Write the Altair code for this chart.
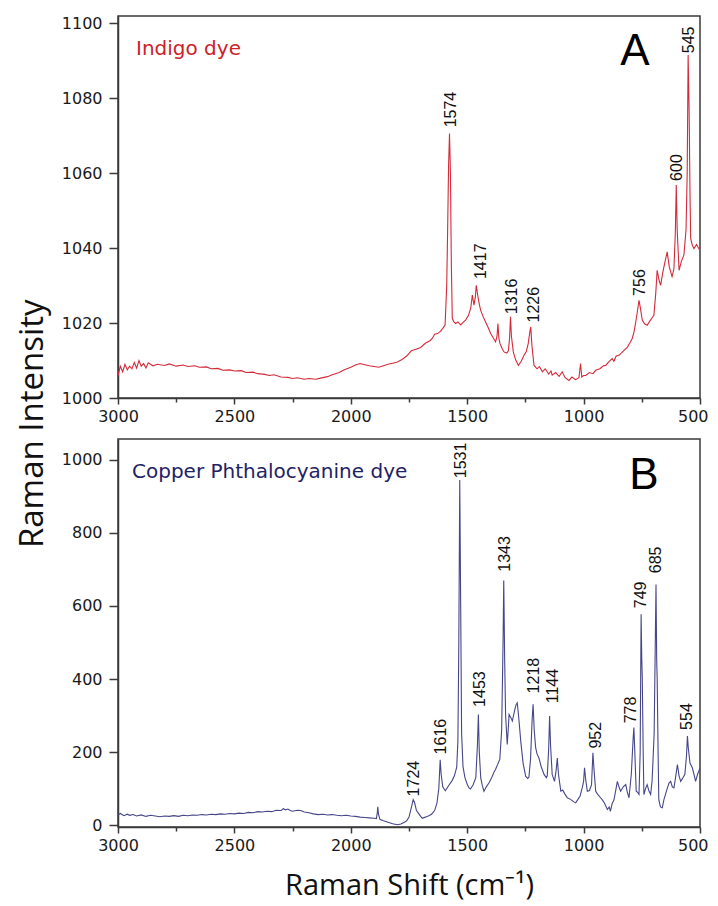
import altair as alt
import pandas as pd

# ---------------- Indigo dye spectrum (panel A) ----------------
indigo_shift = [3000, 2990, 2980, 2970, 2960, 2950, 2940, 2930, 2920, 2910, 2900, 2890, 2880, 2870, 2850,
                2830, 2800, 2780, 2750, 2720, 2700, 2670, 2650, 2620, 2600, 2570, 2550, 2520, 2500, 2470,
                2450, 2420, 2400, 2370, 2350, 2330, 2300, 2270, 2250, 2230, 2200, 2180, 2150, 2130, 2100,
                2080, 2050, 2030, 2000, 1980, 1960, 1940, 1920, 1900, 1880, 1860, 1840, 1820, 1800, 1780,
                1760, 1740, 1720, 1700, 1680, 1660, 1650, 1640, 1628, 1615, 1605, 1595, 1588, 1584, 1580,
                1576, 1572, 1568, 1564, 1558, 1550, 1540, 1528, 1518, 1507, 1495, 1485, 1478, 1471, 1465,
                1461, 1455, 1448, 1442, 1432, 1421, 1410, 1399, 1388, 1378, 1372, 1368, 1364, 1359, 1350,
                1342, 1330, 1323, 1318, 1314, 1310, 1302, 1292, 1280, 1268, 1256, 1246, 1238, 1230, 1227,
                1222, 1213, 1200, 1190, 1177, 1165, 1150, 1140, 1135, 1120, 1105, 1092, 1080, 1063, 1050,
                1035, 1020, 1013, 1008, 1000, 991, 975, 960, 948, 930, 915, 905, 890, 877, 870,
                860, 848, 835, 825, 812, 800, 791, 783, 776, 768, 762, 756, 748, 738, 727,
                715, 705, 698, 690, 684, 676, 669, 660, 650, 641, 632, 620, 612, 606, 602,
                598, 590, 580, 569, 560, 555, 551, 547, 543, 540, 533, 526, 515, 504, 500]
indigo_int = [1006.0, 1008.5, 1007.0, 1009.0, 1007.5, 1008.5, 1007.8, 1009.5, 1008.0, 1010.0, 1008.5, 1009.2, 1008.0, 1009.4, 1008.6,
              1009.0, 1008.7, 1009.1, 1008.5, 1008.8, 1008.4, 1008.6, 1008.2, 1008.3, 1007.8, 1007.9, 1007.4, 1007.5, 1007.2, 1007.3,
              1006.8, 1006.9, 1006.5, 1006.3, 1006.0, 1006.2, 1005.6, 1005.5, 1005.2, 1005.4, 1005.0, 1005.2, 1005.0, 1005.3, 1005.7,
              1006.2, 1006.8, 1007.5, 1008.2, 1008.8, 1009.2, 1008.9, 1008.6, 1008.4, 1008.2, 1008.6, 1009.0, 1009.3, 1009.6, 1010.3,
              1011.2, 1012.6, 1013.0, 1013.5, 1014.6, 1015.3, 1015.9, 1017.0, 1017.2, 1017.8, 1018.6, 1019.5, 1030.0, 1045.0, 1062.0,
              1070.6, 1060.0, 1035.0, 1021.2, 1020.4, 1019.9, 1020.3, 1019.5, 1020.2, 1020.8, 1022.0, 1023.9, 1027.5, 1024.8, 1027.0,
              1030.1, 1027.5, 1025.0, 1023.4, 1021.8, 1020.3, 1018.8, 1017.2, 1016.0, 1015.0, 1016.5, 1019.9, 1016.0, 1014.5, 1013.2,
              1012.3, 1012.0, 1012.6, 1016.0, 1021.7, 1016.5, 1012.3, 1010.2, 1008.7, 1009.8, 1011.4, 1012.4, 1014.5, 1018.0, 1019.0,
              1014.0, 1008.7, 1007.8, 1008.4, 1007.0, 1007.8, 1006.4, 1007.2, 1006.1, 1006.8, 1005.8, 1007.0, 1005.5, 1004.7, 1005.6,
              1004.9, 1005.4, 1009.2, 1005.6, 1006.0, 1006.0, 1006.8, 1006.5, 1007.4, 1007.8, 1008.6, 1008.7, 1009.8, 1010.5, 1009.8,
              1011.2, 1011.4, 1012.2, 1012.8, 1013.6, 1014.8, 1015.9, 1017.8, 1020.3, 1023.5, 1026.1, 1024.0, 1020.8, 1019.8, 1019.4,
              1020.6, 1021.5, 1022.1, 1028.0, 1034.1, 1031.5, 1030.1, 1033.5, 1036.5, 1039.0, 1035.0, 1032.4, 1034.5, 1044.0, 1056.9,
              1045.0, 1034.1, 1036.5, 1038.2, 1045.0, 1060.0, 1091.6, 1078.0, 1055.0, 1042.6, 1040.8, 1039.9, 1041.0, 1039.8, 1040.2]

indigo_peak_labels = ["1574", "1417", "1316", "1226", "756", "600", "545"]
indigo_label_x = [1571, 1442, 1306, 1213, 759, 597, 547]
indigo_label_y = [1072.0, 1031.5, 1022.1, 1019.9, 1027.0, 1057.7, 1091.8]

# ---------------- Copper phthalocyanine spectrum (panel B) ----------------
cupc_shift = [3000, 2990, 2975, 2960, 2950, 2935, 2920, 2900, 2880, 2860, 2840, 2820, 2800, 2780, 2760,
              2740, 2720, 2700, 2680, 2660, 2640, 2620, 2600, 2580, 2560, 2540, 2520, 2500, 2480, 2460,
              2440, 2420, 2400, 2380, 2360, 2340, 2320, 2300, 2290, 2280, 2270, 2260, 2250, 2230, 2215,
              2200, 2180, 2160, 2140, 2120, 2100, 2080, 2060, 2040, 2020, 2000, 1980, 1960, 1940, 1920,
              1900, 1890, 1886, 1884, 1881, 1875, 1860, 1840, 1820, 1800, 1785, 1772, 1760, 1750, 1740,
              1732, 1726, 1718, 1712, 1700, 1693, 1680, 1665, 1653, 1640, 1630, 1622, 1616, 1612, 1605,
              1594, 1580, 1565, 1555, 1545, 1540, 1536, 1532, 1528, 1524, 1518, 1510, 1500, 1492, 1486,
              1475, 1463, 1456, 1452, 1448, 1442, 1435, 1428, 1418, 1406, 1395, 1385, 1378, 1370, 1360,
              1352, 1346, 1343, 1339, 1335, 1328, 1324, 1320, 1313, 1306, 1296, 1290, 1285, 1278, 1270,
              1260, 1249, 1240, 1235, 1228, 1221, 1217, 1212, 1206, 1200, 1192, 1182, 1170, 1160, 1156,
              1150, 1146, 1142, 1135, 1125, 1118, 1113, 1108, 1098, 1090, 1080, 1070, 1060, 1050, 1040,
              1034, 1025, 1015, 1006, 1000, 996, 991, 984, 975, 966, 960, 955, 948, 940, 927,
              918, 910, 898, 890, 885, 877, 870, 862, 855, 848, 841, 830, 819, 812, 805,
              795, 787, 784, 780, 774, 768, 762, 757, 753, 750, 748, 744, 741, 734, 727,
              720, 712, 706, 702, 697, 693, 689, 686, 684, 680, 677, 670, 662, 655, 648,
              640, 633, 626, 619, 612, 605, 597, 590, 583, 575, 565, 558, 554, 550, 543,
              533, 526, 519, 510, 504, 500]
cupc_int = [28, 32, 26, 30, 27, 29, 25, 28, 24, 27, 25, 23, 25, 24, 26,
            24, 27, 26, 28, 27, 29, 28, 30, 29, 31, 30, 32, 31, 33, 32,
            35, 34, 37, 36, 38, 37, 41, 40, 45, 42, 44, 40, 38, 41, 40,
            36, 34, 31, 29, 30, 28, 29, 27, 26, 27, 25, 24, 22, 21, 20,
            19, 18, 35, 50, 30, 16, 12, 8, 4, 1, 3, 7, 12, 22, 48,
            70, 62, 40, 35, 24, 19, 22, 26, 30, 40, 60, 100, 179, 140, 105,
            94, 108, 122, 135, 159, 230, 500, 945, 600, 250, 160, 131, 112, 102, 99,
            110, 130, 220, 303, 200, 130, 108, 93, 105, 116, 130, 145, 153, 165, 180,
            260, 500, 670, 450, 300, 221, 260, 303, 295, 285, 315, 330, 335, 290, 230,
            170, 134, 128, 131, 180, 290, 331, 260, 212, 195, 184, 160, 139, 130, 135,
            210, 299, 220, 139, 120, 150, 184, 140, 93, 96, 85, 75, 72, 68, 63,
            61, 70, 80, 102, 120, 157, 125, 93, 95, 110, 198, 150, 93, 85, 75,
            68, 60, 43, 50, 38, 60, 68, 95, 120, 105, 93, 105, 111, 90, 75,
            140, 240, 267, 200, 93, 90, 84, 200, 577, 450, 404, 200, 84, 100, 111,
            95, 84, 120, 175, 250, 450, 659, 450, 404, 200, 70, 50, 48, 70, 85,
            102, 115, 120, 105, 102, 130, 166, 135, 120, 128, 139, 190, 244, 210, 170,
            157, 140, 120, 140, 150, 157]

cupc_peak_labels = ["1724", "1616", "1531", "1453", "1343", "1218", "1144", "952", "778", "749", "685", "554"]
cupc_label_x = [1729, 1614, 1525, 1446, 1339, 1213, 1131, 948, 795, 752, 688, 555]
cupc_label_y = [76, 191, 947, 321, 691, 358, 331, 207, 276, 591, 687, 258]

RED = "#d42a3a"
BLUE = "#46468a"
AXIS_COL = "#3a3a3a"

top_df = pd.DataFrame({"shift": indigo_shift, "intensity": indigo_int})
top_lab = pd.DataFrame({"shift": indigo_label_x, "intensity": indigo_label_y, "label": indigo_peak_labels})
bot_df = pd.DataFrame({"shift": cupc_shift, "intensity": cupc_int})
bot_lab = pd.DataFrame({"shift": cupc_label_x, "intensity": cupc_label_y, "label": cupc_peak_labels})

x_ticks = list(range(500, 3001, 250))


def x_axis(title):
    kw = dict(
        values=x_ticks,
        labelExpr="datum.value % 500 === 0 ? datum.label : ''",
        format="d",
        grid=False,
        labelFont="DejaVu Sans",
        labelFontSize=16,
        labelColor="#1a1a1a",
        labelFlush=False,
        labelAlign={"condition": {"test": "datum.value === 500", "value": "right"}, "value": "center"},
        labelOffset={"condition": {"test": "datum.value === 500", "value": 8}, "value": 0},
        labelPadding=4,
        tickColor=AXIS_COL,
        tickWidth=1.5,
        tickSize={"condition": {"test": "datum.value % 500 === 0", "value": 6}, "value": 4},
        domainColor=AXIS_COL,
        domainWidth=1.5,
    )
    if title:
        kw.update(title=title, titleFont="Open Sans", titleFontSize=29, titleFontWeight="normal",
                  titleColor="#111", titlePadding=18)
    else:
        kw.update(title=None)
    return alt.Axis(**kw)


def y_axis(values, major):
    return alt.Axis(
        values=values,
        labelExpr=f"datum.value % {major} === 0 ? datum.label : ''",
        format="d",
        grid=False,
        title=None,
        labelFont="DejaVu Sans",
        labelFontSize=16,
        labelColor="#1a1a1a",
        labelPadding=7,
        tickColor=AXIS_COL,
        tickWidth=1.5,
        tickSize={"condition": {"test": f"datum.value % {major} === 0", "value": 9}, "value": 5},
        domainColor=AXIS_COL,
        domainWidth=1.5,
    )


one_row = alt.Data(values=[{"a": 1}])

# ---------- panel A ----------
xA = alt.X("shift:Q", scale=alt.Scale(domain=[500, 3000], reverse=True, nice=False, zero=False), axis=x_axis(None))
yA = alt.Y("intensity:Q", scale=alt.Scale(domain=[1000, 1102], nice=False, zero=False),
           axis=y_axis(list(range(1000, 1101, 10)), 20))

lineA = alt.Chart(top_df).mark_line(color=RED, strokeWidth=1.1).encode(x=xA, y=yA, order="shift:Q")
labA = alt.Chart(top_lab).mark_text(angle=270, align="left", baseline="middle", dx=1,
                                    font="Liberation Sans", fontSize=16, color="#111").encode(
    x="shift:Q", y="intensity:Q", text="label:N")
nameA = alt.Chart(one_row).mark_text(text="Indigo dye", align="left", baseline="alphabetic",
                                     font="DejaVu Sans", fontSize=20, color="#cc2229").encode(
    x=alt.value(18), y=alt.value(39))
letterA = alt.Chart(one_row).mark_text(text="A", align="center", baseline="alphabetic",
                                       font="Liberation Sans", fontSize=44, color="#000").encode(
    x=alt.value(517), y=alt.value(49))

top = alt.layer(lineA, labA, nameA, letterA).properties(width=582, height=382)

# ---------- panel B ----------
xB = alt.X("shift:Q", scale=alt.Scale(domain=[500, 3000], reverse=True, nice=False, zero=False),
           axis=x_axis("Raman Shift (cm\u207b\u00b9)"))
yB = alt.Y("intensity:Q", scale=alt.Scale(domain=[-5, 1057], nice=False, zero=False),
           axis=y_axis(list(range(0, 1001, 100)), 200))

lineB = alt.Chart(bot_df).mark_line(color=BLUE, strokeWidth=1.1).encode(x=xB, y=yB, order="shift:Q")
labB = alt.Chart(bot_lab).mark_text(angle=270, align="left", baseline="middle", dx=1,
                                    font="Liberation Sans", fontSize=16, color="#111").encode(
    x="shift:Q", y="intensity:Q", text="label:N")
nameB = alt.Chart(one_row).mark_text(text="Copper Phthalocyanine dye", align="left", baseline="alphabetic",
                                     font="DejaVu Sans", fontSize=20, color="#1f2266").encode(
    x=alt.value(14), y=alt.value(39))
letterB = alt.Chart(one_row).mark_text(text="B", align="center", baseline="alphabetic",
                                       font="Liberation Sans", fontSize=44, color="#000").encode(
    x=alt.value(526), y=alt.value(50))

bottom = alt.layer(lineB, labB, nameB, letterB).properties(width=582, height=388)

chart = alt.vconcat(top, bottom, spacing=13).properties(
    title=alt.TitleParams(text="Raman Intensity", orient="left", anchor="middle", font="Open Sans",
                          fontSize=33, fontWeight="normal", color="#111", offset=11, dx=34),
    padding={"left": 8, "top": 6, "right": 0, "bottom": 2},
).configure_view(stroke=AXIS_COL, strokeWidth=1.5)

chart.save("out.html", embed_options={"renderer": "svg", "actions": False})
